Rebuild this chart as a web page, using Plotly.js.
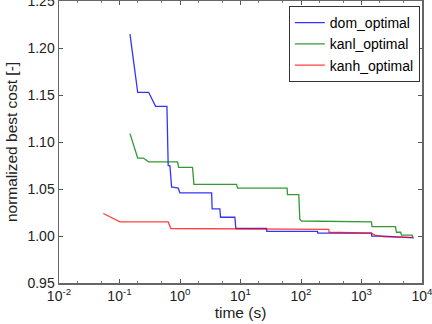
<!DOCTYPE html>
<html>
<head>
<meta charset="utf-8">
<script src="https://cdn.plot.ly/plotly-3.0.1.min.js"></script>
<style>
  html, body { margin: 0; padding: 0; background: #fff; }
  #grafikoa { width: 432px; height: 324px; }
</style>
</head>
<body>
<div id="grafikoa"></div>
<script>
// time (s) and normalized best cost
const domTime = [0.149, 0.200, 0.303, 0.395, 0.608, 0.638, 0.681, 0.727, 0.763, 0.934, 0.996,
                 3.33, 3.40, 4.56, 4.68, 8.07, 8.38, 26.9, 27.2, 187, 189, 1459, 1476, 2330, 7300];
const domCost = [1.215, 1.153, 1.153, 1.138, 1.138, 1.075, 1.075, 1.052, 1.052, 1.051, 1.046,
                 1.046, 1.029, 1.029, 1.020, 1.020, 1.008, 1.008, 1.005, 1.005, 1.003, 1.003, 1.000, 1.000, 0.998];

const kanlTime = [0.149, 0.200, 0.247, 0.303, 0.913, 0.948, 1.61, 1.70, 8.61, 8.94, 58.9, 59.8,
                  92, 95.5, 102, 1459, 1493, 3636, 3780, 4450, 4570, 6840, 7100];
const kanlCost = [1.109, 1.083, 1.083, 1.079, 1.079, 1.073, 1.073, 1.055, 1.055, 1.051, 1.051, 1.044,
                  1.044, 1.018, 1.016, 1.015, 1.010, 1.010, 1.004, 1.004, 1.001, 1.001, 0.999];

const kanhTime = [0.054, 0.102, 0.638, 0.707, 288, 291, 1459, 1656, 2420, 7100];
const kanhCost = [1.024, 1.015, 1.015, 1.008, 1.007, 1.004, 1.003, 1.001, 0.999, 0.9985];

const xTickVals = [0.01, 0.1, 1, 10, 100, 1000, 10000];
const xTickText = ["10<sup>-2</sup>", "10<sup>-1</sup>", "10<sup>0</sup>", "10<sup>1</sup>",
                   "10<sup>2</sup>", "10<sup>3</sup>", "10<sup>4</sup>"];
const yTickVals = [0.95, 1.00, 1.05, 1.10, 1.15, 1.20, 1.25];

let grafikoa = document.getElementById("grafikoa");

let data = [
  {x: domTime, y: domCost, name: "dom_optimal", mode: "lines",
   line: {color: "rgba(0,0,255,0.8)", width: 1.3}},
  {x: kanlTime, y: kanlCost, name: "kanl_optimal", mode: "lines",
   line: {color: "rgba(0,128,0,0.8)", width: 1.3}},
  {x: kanhTime, y: kanhCost, name: "kanh_optimal", mode: "lines",
   line: {color: "rgba(255,0,0,0.75)", width: 1.3}}
];

let fam = "Liberation Sans, Arial, sans-serif";
let tickFont = {family: fam, size: 14, color: "#222"};
let titleFont = {family: fam, size: 15.5, color: "#222"};

let layout = {
  width: 432, height: 324,
  margin: {l: 59, r: 10, t: 1, b: 41},
  paper_bgcolor: "#fff", plot_bgcolor: "#fff",
  font: tickFont,
  showlegend: true,
  legend: {x: 0.994, xanchor: "right", y: 0.982, yanchor: "top",
           bordercolor: "#333", borderwidth: 1, bgcolor: "#fff",
           font: {family: fam, size: 14, color: "#000"},
           itemwidth: 30, tracegroupgap: 0},
  xaxis: {
    type: "log", range: [-2, 4],
    tickvals: xTickVals, ticktext: xTickText,
    ticks: "inside", ticklen: 4, tickcolor: "#555",
    showline: true, linecolor: "#666", linewidth: 1.5, mirror: "ticks",
    showgrid: false, zeroline: false,
    minor: {ticks: "inside", ticklen: 2, tickcolor: "#777", showgrid: false},
    tickfont: tickFont, ticklabeloverflow: "allow",
    title: {text: "time (s)", font: titleFont, standoff: 2}
  },
  yaxis: {
    range: [0.95, 1.2502],
    tickvals: yTickVals, tickformat: ".2f",
    ticks: "inside", ticklen: 4, tickcolor: "#555",
    showline: true, linecolor: "#666", linewidth: 1.5, mirror: "ticks",
    showgrid: false, zeroline: false,
    tickfont: tickFont, ticklabeloverflow: "allow",
    title: {text: "normalized best cost [-]", font: titleFont, standoff: 6}
  }
};

Plotly.newPlot(grafikoa, data, layout, {staticPlot: true});
</script>
</body>
</html>
